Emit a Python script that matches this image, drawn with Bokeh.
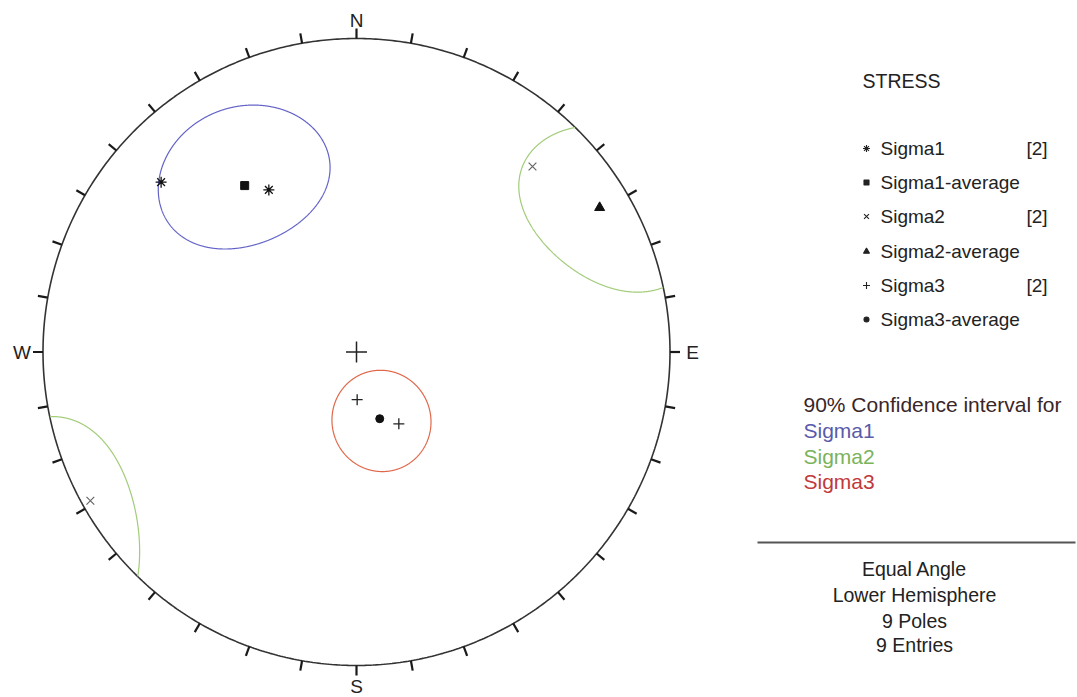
import numpy as np
from bokeh.plotting import figure
from bokeh.models import Range1d
from bokeh.core.properties import value
from bokeh.embed import file_html
from bokeh.resources import INLINE

# ---------------- data (trend / plunge in degrees) ----------------
sigma1_trend = [311.0, 331.6]
sigma1_plunge = [10.9, 29.1]
sigma1_avg_trend = [326.1]
sigma1_avg_plunge = [24.8]

sigma2_trend = [43.5, 240.8]
sigma2_plunge = [11.6, 1.6]
sigma2_avg_trend = [59.3]
sigma2_avg_plunge = [5.9]

sigma3_trend = [179.2, 149.5]
sigma3_plunge = [72.7, 60.2]
sigma3_avg_trend = [160.8]
sigma3_avg_plunge = [64.6]

# 90% confidence cones: centre trend, centre plunge, two semi-angles, axis rotation (deg)
ci_names = ["Sigma1", "Sigma2", "Sigma3"]
ci_trend = [327.4, 59.8, 160.1]
ci_plunge = [24.3, 5.5, 64.3]
ci_semi_a = [22.3, 19.3, 17.0]
ci_semi_b = [17.5, 14.6, 17.5]
ci_rotation = [12.0, -26.0, 0.0]
ci_colors = ["#6464c8", "#a2cc7a", "#e0684a"]

legend_labels = ["Sigma1", "Sigma1-average", "Sigma2", "Sigma2-average", "Sigma3", "Sigma3-average"]
legend_counts = ["[2]", "", "[2]", "", "[2]", ""]
info_lines = ["Equal Angle", "Lower Hemisphere", "9 Poles", "9 Entries"]
compass = ["N", "E", "S", "W"]

# ---------------- layout helpers ----------------
W, H = 1077, 697
CX, CY, RPX = 356.0, 351.5, 313.5   # screen position/size of primitive


def sx(px):
    return (px - CX) / RPX


def sy(py):
    return (CY - py) / RPX


def proj(trend, plunge):
    t = np.radians(np.asarray(trend, float))
    r = np.tan(np.radians(90.0 - np.asarray(plunge, float)) / 2.0)
    return r * np.sin(t), r * np.cos(t)


def cone(trend, plunge, sa, sb, rot, n=1441):
    tr, pl, rt = np.radians([trend, plunge, rot])
    m = np.array([np.cos(pl) * np.cos(tr), np.cos(pl) * np.sin(tr), np.sin(pl)])
    u = np.array([-np.sin(tr), np.cos(tr), 0.0])
    v = np.array([-np.sin(pl) * np.cos(tr), -np.sin(pl) * np.sin(tr), np.cos(pl)])
    u2 = np.cos(rt) * u + np.sin(rt) * v
    v2 = -np.sin(rt) * u + np.cos(rt) * v
    t = np.linspace(0, 2 * np.pi, n)
    vec = (m[:, None] + np.tan(np.radians(sa)) * np.cos(t) * u2[:, None]
           + np.tan(np.radians(sb)) * np.sin(t) * v2[:, None])
    vec /= np.linalg.norm(vec, axis=0)
    up = vec[2] < 0
    vec[:, up] *= -1
    vd = np.clip(vec[2], 0, 1)
    ptr = np.arctan2(vec[1], vec[0])
    r = np.tan((np.pi / 2 - np.arcsin(vd)) / 2)
    x = r * np.sin(ptr)
    y = r * np.cos(ptr)
    xs, ys = [], []
    for i in range(n):
        if i > 0 and up[i] != up[i - 1]:
            xs.append(np.nan)
            ys.append(np.nan)
        xs.append(x[i])
        ys.append(y[i])
    return xs, ys


p = figure(width=W, height=H, output_backend="svg", toolbar_location=None,
           x_range=Range1d(sx(0), sx(W)), y_range=Range1d(sy(H), sy(0)),
           min_border=0, x_axis_location=None, y_axis_location=None)
p.grid.visible = False
p.outline_line_color = None
p.background_fill_color = "white"
p.border_fill_color = "white"

FONT = value("Liberation Sans")

# primitive circle
a = np.linspace(0, 2 * np.pi, 721)
p.line(np.sin(a), np.cos(a), line_color="#333333", line_width=1.6)

# ticks every 10 degrees, outward
ta = np.radians(np.arange(0, 360, 10))
tl = 1 + 10 / RPX
p.segment(np.sin(ta), np.cos(ta), tl * np.sin(ta), tl * np.cos(ta),
          line_color="#1a1a1a", line_width=2.2)

# compass labels
cx_ = [0.0, sx(692), 0.0, sx(21.5)]
cy_ = [sy(19.5), sy(352), sy(686), sy(352)]
p.text(cx_, cy_, text=compass, text_font=FONT, text_font_size="19px",
       text_color="#222222", text_align="center", text_baseline="middle")

# centre cross
p.scatter([0], [0], marker="cross", size=21, line_color="#222222", line_width=1.5)

# confidence cones
for i in range(3):
    cxs, cys = cone(ci_trend[i], ci_plunge[i], ci_semi_a[i], ci_semi_b[i], ci_rotation[i])
    p.line(cxs, cys, line_color=ci_colors[i], line_width=1.2)

# poles
x, y = proj(sigma1_trend, sigma1_plunge)
p.scatter(x, y, marker="asterisk", size=11, line_color="#111111", line_width=1.3)
x, y = proj(sigma1_avg_trend, sigma1_avg_plunge)
p.scatter(x, y, marker="square", size=8, fill_color="#111111", line_color="#111111")
x, y = proj(sigma2_trend, sigma2_plunge)
p.scatter(x, y, marker="x", size=11, line_color="#666666", line_width=1.2)
x, y = proj(sigma2_avg_trend, sigma2_avg_plunge)
p.scatter(x, y, marker="triangle", size=10, fill_color="#111111", line_color="#111111")
x, y = proj(sigma3_trend, sigma3_plunge)
p.scatter(x, y, marker="cross", size=11, line_color="#222222", line_width=1.3)
x, y = proj(sigma3_avg_trend, sigma3_avg_plunge)
p.scatter(x, y, marker="circle", size=8, fill_color="#111111", line_color="#111111")

# ---------------- right-hand panel ----------------
p.text([sx(862)], [sy(80)], text=["STRESS"], text_font=FONT, text_font_size="19.5px",
       text_color="#222222", text_align="left", text_baseline="middle")

row_y = [sy(v) for v in (148, 182, 216, 251, 285, 319)]
mx = sx(866)
legend_markers = ["asterisk", "square", "x", "triangle", "cross", "circle"]
legend_sizes = [7, 5, 7, 6, 7, 5]
for mk, yy, sz in zip(legend_markers, row_y, legend_sizes):
    p.scatter([mx], [yy], marker=mk, size=sz, fill_color="#222222",
              line_color="#222222", line_width=1.1)

p.text([sx(880)] * len(legend_labels), row_y, text=legend_labels, text_font=FONT,
       text_font_size="19px", text_color="#222222", text_align="left", text_baseline="middle")
p.text([sx(1026)] * len(legend_counts), row_y, text=legend_counts, text_font=FONT,
       text_font_size="19px", text_color="#222222", text_align="left", text_baseline="middle")

p.text([sx(803)], [sy(404)], text=["90% Confidence interval for"], text_font=FONT,
       text_font_size="21px", text_color="#3a2626", text_align="left", text_baseline="middle")
p.text([sx(803)] * 3, [sy(430), sy(456), sy(481)], text=ci_names,
       text_color=["#5a5aaa", "#7ab35a", "#c03a3a"], text_font=FONT,
       text_font_size="21px", text_align="left", text_baseline="middle")

p.segment([sx(757)], [sy(542)], [sx(1075)], [sy(542)], line_color="#555555", line_width=2)

p.text([sx(914)] * 4, [sy(v) for v in (568, 594, 620, 644)], text=info_lines,
       text_font=FONT, text_font_size="19.5px", text_color="#222222",
       text_align="center", text_baseline="middle")

open("out.html", "w").write(file_html(p, INLINE))
